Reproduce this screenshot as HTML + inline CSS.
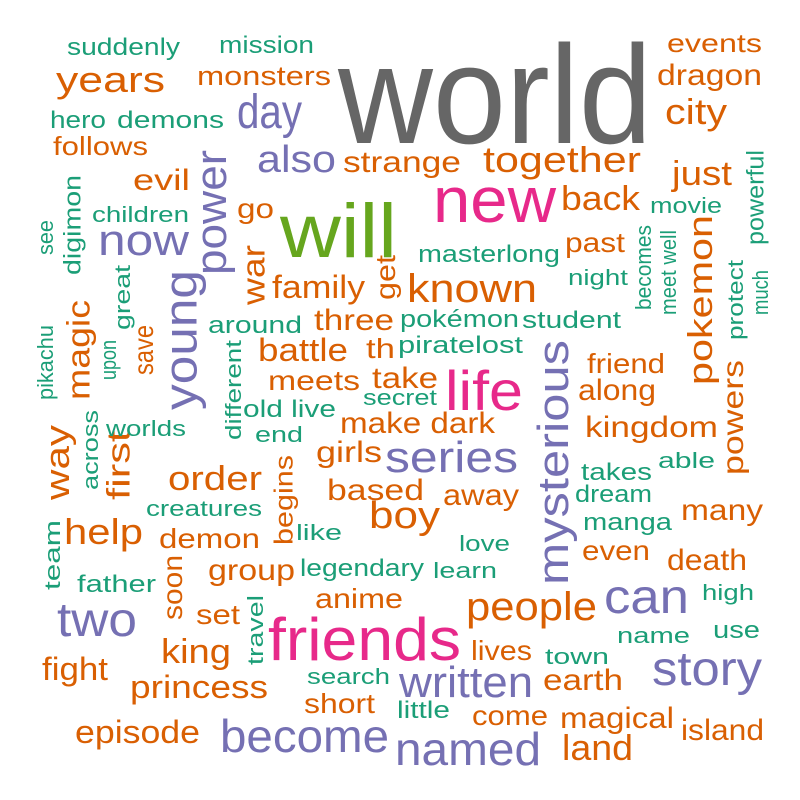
<!DOCTYPE html>
<html><head><meta charset="utf-8"><title>Word cloud</title>
<style>html,body{margin:0;padding:0;background:#fff}svg{display:block}text{font-family:"Liberation Sans",Arial,sans-serif}</style>
</head><body>
<svg id="cloud" width="800" height="800" viewBox="0 0 800 800" xmlns="http://www.w3.org/2000/svg"></svg>
<script>
const palette = ["#666666","#66A61E","#E7298A","#7570B3","#D95F02","#1B9E77"];
const words = ["world","will","new","life","friends",
"day","power","also","now","young","mysterious","series","two","can","story","written","become","named",
"events","years","monsters","dragon","city","follows","evil","strange","together","just","go","back","past","pokemon","war","family","get","known","three","magic","save","battle","th","friend","along","powers","meets","take","make dark","kingdom","way","first","girls","order","based","away","begins","help","boy","many","demon","even","death","group","soon","set","anime","people","king","fight","lives","princess","short","earth","come","magical","island","episode","land",
"suddenly","mission","hero","demons","children","see","digimon","movie","powerful","masterlong","night","becomes","meet well","protect","much","great","around","pokémon","student","upon","pikachu","piratelost","different","old live","secret","end","worlds","across","takes","able","dream","creatures","like","manga","team","love","legendary","learn","father","high","travel","name","use","search","town","little"];
const sizes = [140,76,64,56,60,
48,44,38,44,46,44,44,48,48,48,44,46,46,
26,36,27,30,36,26,30,30,36,34,28,34,28,34,32,32,28,40,30,32,28,32,28,28,30,30,28,30,30,30,34,32,30,34,30,30,26,36,38,30,28,28,30,30,28,28,28,40,34,32,28,32,28,30,28,30,30,32,36,
24,24,24,24,22,22,24,22,24,24,22,22,22,22,22,22,24,24,24,22,22,24,22,24,22,22,22,22,24,22,24,22,22,24,22,22,24,22,24,22,22,22,24,22,22,24,22,22];
const colorIdx = [0,1,2,2,2,
3,3,3,3,3,3,3,3,3,3,3,3,3,
4,4,4,4,4,4,4,4,4,4,4,4,4,4,4,4,4,4,4,4,4,4,4,4,4,4,4,4,4,4,4,4,4,4,4,4,4,4,4,4,4,4,4,4,4,4,4,4,4,4,4,4,4,4,4,4,4,4,4,
5,5,5,5,5,5,5,5,5,5,5,5,5,5,5,5,5,5,5,5,5,5,5,5,5,5,5,5,5,5,5,5,5,5,5,5,5,5,5,5,5,5,5,5,5,5,5,5];
// layout: [start, end, y(or x for rotated), rotated]
const layout = [[338,652,143,0],[280,397,257,0],[433,556,222,0],[445,523,410,0],[268,461,660,0],
[237,302,128,0],[150,275,210,1],[257,336,172,0],[98,189,255,0],[270,410,180,1],[340,585,552,1],[385,518,472,0],[57,137,636,0],[604,689,613,0],[652,762,685,0],[399,533,697,0],[220,389,752,0],[395,541,765,0],
[667,762,52,0],[56,165,92,0],[197,331,85,0],[657,762,85,0],[665,727,124,0],[53,148,155,0],[133,190,190,0],[343,461,172,0],[483,641,172,0],[672,732,185,0],[237,274,218,0],[561,640,210,0],[565,625,252,0],[215,385,700,1],[245,305,253,1],[272,365,298,0],[255,300,385,1],[407,537,302,0],[314,394,330,0],[300,400,78,1],[325,375,143,1],[258,348,361,0],[366,395,358,0],[587,665,373,0],[578,656,400,0],[360,475,732,1],[268,360,390,0],[372,438,388,0],[340,495,433,0],[585,718,437,0],[425,500,57,1],[430,500,118,1],[316,382,462,0],[168,262,490,0],[327,424,500,0],[443,519,505,0],[455,545,283,1],[64,143,544,0],[369,440,528,0],[681,763,520,0],[159,260,548,0],[582,650,560,0],[667,747,570,0],[208,295,580,0],[555,620,172,1],[196,240,624,0],[315,403,608,0],[466,597,620,0],[161,231,663,0],[42,108,680,0],[471,532,660,0],[130,268,698,0],[304,375,713,0],[543,623,690,0],[472,548,725,0],[560,674,728,0],[681,764,740,0],[75,200,743,0],[562,633,760,0],
[67,180,55,0],[219,314,53,0],[50,106,128,0],[117,224,128,0],[92,189,222,0],[220,255,45,1],[175,275,72,1],[650,722,213,0],[150,245,755,1],[418,560,262,0],[568,628,285,0],[225,310,643,1],[230,315,668,1],[260,340,735,1],[270,315,760,1],[265,330,122,1],[208,302,333,0],[400,519,327,0],[522,621,328,0],[340,380,108,1],[325,400,45,1],[398,523,353,0],[340,440,233,1],[243,336,417,0],[363,437,405,0],[255,303,442,0],[106,186,436,0],[410,490,90,1],[581,652,480,0],[658,715,468,0],[575,652,502,0],[146,262,516,0],[296,342,540,0],[583,672,530,0],[520,590,52,1],[459,510,551,0],[300,424,576,0],[433,497,578,0],[77,156,592,0],[702,754,600,0],[595,665,255,1],[617,690,643,0],[713,760,638,0],[307,390,684,0],[545,609,664,0],[397,450,718,0]];
const NS = "http://www.w3.org/2000/svg";
const svg = document.getElementById("cloud");
words.forEach((w, i) => {
  const t = document.createElementNS(NS, "text");
  
  
  const [a, b, c, rot] = layout[i];
  const fs = sizes[i];
  t.setAttribute("font-size", fs);
  t.setAttribute("fill", palette[colorIdx[i]]);
  t.setAttribute("textLength", b - a);
  t.setAttribute("lengthAdjust", "spacingAndGlyphs");
  if (!rot) {
    t.setAttribute("x", a);
    t.setAttribute("y", c);
  } else {
    const bx = c + fs * 0.36;
    t.setAttribute("x", 0);
    t.setAttribute("y", 0);
    t.setAttribute("transform", "translate(" + bx + "," + b + ") rotate(-90)");
  }
  t.textContent = w;
  svg.appendChild(t);
});
</script>
</body></html>
